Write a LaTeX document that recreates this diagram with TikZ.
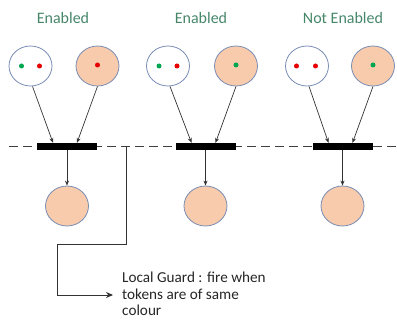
\documentclass[tikz,border=0pt]{standalone}
\usepackage{fontspec}
\setmainfont{Carlito}
\usetikzlibrary{arrows.meta,shapes.geometric}
\definecolor{labelgreen}{RGB}{70,135,105}
\definecolor{placefill}{RGB}{248,203,173}
\definecolor{placeline}{RGB}{120,140,180}
\definecolor{tokgreen}{RGB}{0,166,80}
\definecolor{tokred}{RGB}{230,0,0}
\tikzset{
  x=1pt, y=1pt,
  title/.style={font=\fontsize{16}{17}\selectfont, text=labelgreen},
  place/.style={ellipse, draw=placeline, line width=0.8pt, minimum width=43pt, minimum height=40pt, inner sep=0pt},
  fullplace/.style={place, fill=placefill},
  emptyplace/.style={place, fill=white},
  token/.style={circle, inner sep=0pt, minimum size=5pt},
  trans/.style={rectangle, fill=black, minimum width=60pt, minimum height=7pt, inner sep=0pt},
  arc/.style={draw=black!80, line width=0.7pt, -{Stealth[length=5pt,width=4pt]}},
  guard/.style={draw=black!80, line width=0.9pt},
}
\begin{document}
\begin{tikzpicture}
\useasboundingbox (0,0) rectangle (397,-321);

% dashed guide line through the transitions
\coordinate (dl) at (9,-146.5);
\coordinate (dr) at (397,-146.5);
\draw[black!75, line width=1.4pt, dash pattern=on 9pt off 5pt] (dl) -- (dr);

% titles
\node[title] (t1) at (63,-18) {Enabled};
\node[title] (t2) at (201,-18) {Enabled};
\node[title] (t3) at (343,-18) {Not Enabled};

% input places
\node[emptyplace] (a1) at (30.5,-66) {};
\node[fullplace]  (b1) at (97.5,-66) {};
\node[emptyplace] (a2) at (168,-66) {};
\node[fullplace]  (b2) at (236,-66) {};
\node[emptyplace] (a3) at (307,-66) {};
\node[fullplace]  (b3) at (373,-66) {};

% tokens
\node[token, fill=tokgreen] (k1) at (21.5,-66) {};
\node[token, fill=tokred]   (k2) at (39.5,-66) {};
\node[token, fill=tokred]   (k3) at (97.5,-65) {};
\node[token, fill=tokgreen] (k4) at (159,-66) {};
\node[token, fill=tokred]   (k5) at (177,-66) {};
\node[token, fill=tokgreen] (k6) at (236,-65) {};
\node[token, fill=tokred]   (k7) at (296.5,-66) {};
\node[token, fill=tokred]   (k8) at (315.5,-66) {};
\node[token, fill=tokgreen] (k9) at (373,-65) {};

% transitions
\node[trans] (x1) at (67,-146.5) {};
\node[trans] (x2) at (205.5,-146.5) {};
\node[trans] (x3) at (342.5,-146.5) {};

% output places
\node[fullplace] (o1) at (67,-206) {};
\node[fullplace] (o2) at (205.5,-206) {};
\node[fullplace] (o3) at (342.5,-206) {};

% input and output arcs
\foreach \i in {1,2,3}{
  \draw[arc] ([xshift=2pt]a\i.south) -- ([xshift=-14pt]x\i.north);
  \draw[arc] (b\i.south) -- ([xshift=10pt]x\i.north);
  \draw[arc] (x\i.south) -- (o\i.north);
}

% local guard annotation
\node[anchor=west, align=left, inner sep=0pt,
      font=\fontsize{15.2}{16.5}\selectfont, text=black!85] (note) at (122,-294)
  {Local Guard : fire when\\tokens are of same\\colour};
\coordinate (g0) at (126,-146.5);
\coordinate (g1) at (126,-244);
\coordinate (g2) at (57,-244);
\coordinate (g3) at (57,-295);
\draw[guard] (g0) -- (g1) -- (g2) -- (g3);
\draw[guard, -{Stealth[length=7pt,width=6pt]}, shorten >=9pt] (g3) -- (g3 -| note.west);
\end{tikzpicture}
\end{document}
